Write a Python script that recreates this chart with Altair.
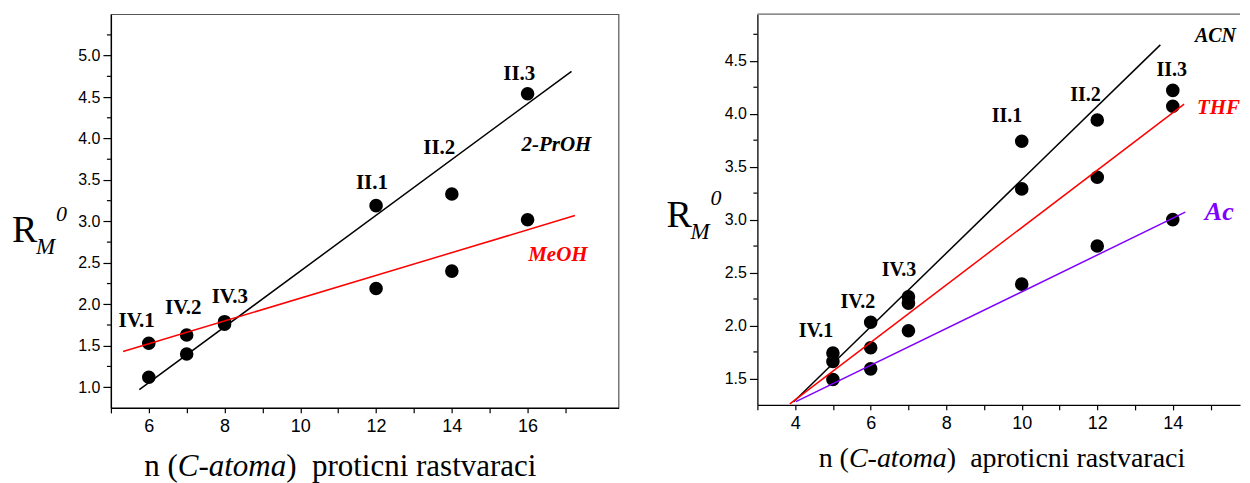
import altair as alt
import pandas as pd

# ---------------- left panel: protic solvents ----------------
left_n = [6, 7, 8, 12, 14, 16]
prOH_rm = [1.12, 1.40, 1.76, 3.19, 3.33, 4.54]
meOH_rm = [1.53, 1.63, 1.79, 2.19, 2.40, 3.02]
prOH_fit_n = [5.75, 17.16]
prOH_fit_rm = [0.97, 4.81]
meOH_fit_n = [5.32, 17.25]
meOH_fit_rm = [1.43, 3.07]
left_pt_labels = ["IV.1", "IV.2", "IV.3", "II.1", "II.2", "II.3"]
left_pt_label_n = [5.68, 6.91, 8.14, 11.89, 13.67, 15.78]
left_pt_label_rm = [1.80, 1.96, 2.09, 3.46, 3.885, 4.78]
left_series = ["2-PrOH", "MeOH"]
left_series_n = [16.76, 16.80]
left_series_rm = [3.92, 2.60]
left_series_color = ["black", "#ff0000"]
left_series_size = [21, 21]
left_x_ticks = list(range(5, 18))
left_y_ticks = [1.0, 1.5, 2.0, 2.5, 3.0, 3.5, 4.0, 4.5, 5.0]
left_y_minor = [1.25, 1.75, 2.25, 2.75, 3.25, 3.75, 4.25, 4.75, 5.25]

# ---------------- right panel: aprotic solvents ----------------
right_n = [5, 6, 7, 10, 12, 14]
acn_rm = [1.74, 2.03, 2.27, 3.74, 3.94, 4.22]
thf_rm = [1.66, 1.79, 2.21, 3.29, 3.40, 4.07]
ac_rm = [1.49, 1.59, 1.95, 2.39, 2.75, 3.00]
acn_fit_n = [3.96, 13.67]
acn_fit_rm = [1.28, 4.65]
thf_fit_n = [3.86, 14.30]
thf_fit_rm = [1.26, 4.09]
ac_fit_n = [4.02, 14.33]
ac_fit_rm = [1.28, 3.07]
right_pt_labels = ["IV.1", "IV.2", "IV.3", "II.1", "II.2", "II.3"]
right_pt_label_n = [4.55, 5.66, 6.75, 9.61, 11.69, 13.97]
right_pt_label_rm = [1.95, 2.22, 2.52, 3.98, 4.18, 4.41]
right_series = ["ACN", "THF", "Ac"]
right_series_n = [15.13, 15.21, 15.23]
right_series_rm = [4.73, 4.05, 3.07]
right_series_color = ["black", "#ff0000", "#8000ff"]
right_series_size = [20, 21, 26]
right_x_ticks = list(range(3, 16))
right_y_ticks = [1.5, 2.0, 2.5, 3.0, 3.5, 4.0, 4.5]
right_y_minor = [1.75, 2.25, 2.75, 3.25, 3.75, 4.25, 4.75]

SERIF = "Liberation Serif"
SANS = "Liberation Sans"
LEFT_W, LEFT_H = 508, 394
RIGHT_W, RIGHT_H = 483, 391


def x_enc(domain, ticks):
    return alt.X(
        "x:Q",
        scale=alt.Scale(domain=domain, nice=False, zero=False),
        axis=alt.Axis(
            values=ticks,
            labelExpr="datum.value % 2 == 0 ? datum.label : ''",
            tickSize=5,
            labelFontSize=18,
            labelPadding=5,
            labelOverlap=False,
            labelFlush=False,
            title="",
        ),
    )


def y_enc(domain, ticks):
    return alt.Y(
        "y:Q",
        scale=alt.Scale(domain=domain, nice=False, zero=False),
        axis=alt.Axis(
            values=ticks,
            format=".1f",
            tickSize=8,
            labelFontSize=16,
            labelPadding=3,
            labelOverlap=False,
            labelFlush=False,
            title="",
        ),
    )


def text_piece(text, px, py, size, style="normal", weight="normal"):
    return alt.Chart(pd.DataFrame({"t": [text]})).mark_text(
        align="left", baseline="alphabetic", font=SERIF, fontSize=size,
        fontStyle=style, fontWeight=weight, color="black",
    ).encode(x=alt.value(px), y=alt.value(py), text="t:N")


def panel(xe, ye, series_pts, fits, pt_lab, ser_lab, minor, title_parts, rm_pos):
    layers = []
    # minor y ticks
    layers.append(
        alt.Chart(pd.DataFrame({"y": minor})).mark_rule(color="black", strokeWidth=1.2)
        .encode(y=ye, x=alt.value(-4), x2=alt.value(0))
    )
    # points
    pts = pd.concat(
        [pd.DataFrame({"x": n, "y": v, "s": s}) for s, n, v in series_pts], ignore_index=True
    )
    layers.append(
        alt.Chart(pts).mark_circle(size=185, color="black", opacity=1).encode(x=xe, y=ye)
    )
    # fitted lines
    for n, v, c in fits:
        layers.append(
            alt.Chart(pd.DataFrame({"x": n, "y": v})).mark_line(color=c, strokeWidth=1.5)
            .encode(x=xe, y=ye)
        )
    # point-group labels
    labs, ln, lr, lsize = pt_lab
    layers.append(
        alt.Chart(pd.DataFrame({"x": ln, "y": lr, "t": labs})).mark_text(
            font=SERIF, fontWeight="bold", fontSize=lsize, color="black",
            align="center", baseline="middle",
        ).encode(x=xe, y=ye, text="t:N")
    )
    # series labels
    sn, sx, sy, sc, ss = ser_lab
    layers.append(
        alt.Chart(pd.DataFrame({"x": sx, "y": sy, "t": sn, "c": sc, "fs": ss})).mark_text(
            font=SERIF, fontWeight="bold", fontStyle="italic",
            align="center", baseline="middle",
        ).encode(
            x=xe, y=ye, text="t:N",
            color=alt.Color("c:N", scale=None),
            size=alt.Size("fs:Q", scale=None),
        )
    )
    # axis y title R_M^0
    (rx, ry), (mx, my), (zx, zy) = rm_pos
    layers.append(text_piece("R", rx, ry, 38))
    layers.append(text_piece("M", mx, my, 23, style="italic"))
    layers.append(text_piece("0", zx, zy, 22, style="italic"))
    # x title pieces
    for t, px, py, fs, st in title_parts:
        layers.append(text_piece(t, px, py, fs, style=st))
    return layers


left_layers = panel(
    x_enc([5, 18.4], left_x_ticks),
    y_enc([0.75, 5.5], left_y_ticks),
    [("2-PrOH", left_n, prOH_rm), ("MeOH", left_n, meOH_rm)],
    [(prOH_fit_n, prOH_fit_rm, "black"), (meOH_fit_n, meOH_fit_rm, "#ff0000")],
    (left_pt_labels, left_pt_label_n, left_pt_label_rm, 21),
    (left_series, left_series_n, left_series_rm, left_series_color, left_series_size),
    left_y_minor,
    [
        ("n (", 33.3, 462.3, 31, "normal"),
        ("C-atoma", 66.9, 462.3, 31, "italic"),
        (")\u00a0 proticni rastvaraci", 175.4, 462.3, 31, "normal"),
    ],
    ((-99, 228.3), (-75, 240.3), (-55, 207.3)),
)

right_layers = panel(
    x_enc([3, 15.78], right_x_ticks),
    y_enc([1.25, 4.94], right_y_ticks),
    [("ACN", right_n, acn_rm), ("THF", right_n, thf_rm), ("Ac", right_n, ac_rm)],
    [
        (acn_fit_n, acn_fit_rm, "black"),
        (thf_fit_n, thf_fit_rm, "#ff0000"),
        (ac_fit_n, ac_fit_rm, "#8000ff"),
    ],
    (right_pt_labels, right_pt_label_n, right_pt_label_rm, 20),
    (right_series, right_series_n, right_series_rm, right_series_color, right_series_size),
    right_y_minor,
    [
        ("n (", 61.3, 452.7, 28, "normal"),
        ("C-atoma", 91.6, 452.7, 28, "italic"),
        (")\u00a0 aproticni rastvaraci", 189.6, 452.7, 28, "normal"),
    ],
    ((-91, 212.7), (-67, 224.7), (-47, 191.0)),
)
# top frame line of right panel (no right border visible)
right_layers.append(
    alt.Chart(pd.DataFrame({"v": [0]})).mark_rule(color="#666666", strokeWidth=1.2)
    .encode(x=alt.value(0), x2=alt.value(RIGHT_W), y=alt.value(0))
)

left = alt.layer(*left_layers).properties(
    width=LEFT_W, height=LEFT_H,
    view=alt.ViewBackground(stroke="#555555", strokeWidth=1.2),
)
right = alt.layer(*right_layers).properties(
    width=RIGHT_W, height=RIGHT_H,
    view=alt.ViewBackground(stroke="transparent"),
)

chart = alt.hconcat(left, right, spacing=139, bounds="flush").properties(
    padding={"left": 3, "top": 4, "right": 0, "bottom": 0}
).configure_axis(
    domainColor="black", domainWidth=1.3, tickColor="black", tickWidth=1.2,
    labelFont=SANS, labelColor="black", grid=False,
).configure_axisX(
    labelFontSize=18, tickSize=5, labelPadding=5,
).configure_axisY(
    labelFontSize=16, tickSize=8, labelPadding=3,
).configure_view(stroke="#555555")

chart.save("out.html", embed_options={"renderer": "svg", "actions": False})
